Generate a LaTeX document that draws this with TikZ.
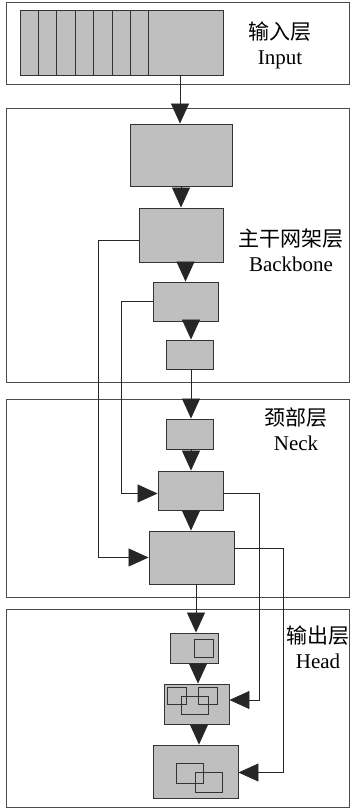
\documentclass[tikz,border=0pt]{standalone}
\usepackage{fontspec}
\setmainfont{Liberation Serif}
\newfontfamily\cjk{Noto Sans CJK SC}
\usepackage{xcolor}
\usepackage{tikz}
\usetikzlibrary{arrows.meta,positioning}

\begin{document}
\begin{tikzpicture}[
    x=1pt, y=-1pt,
    block/.style={rectangle, draw=black!80, fill=gray!50, line width=0.9pt, inner sep=0pt},
    layer/.style={rectangle, draw=black!70, line width=0.8pt, inner sep=0pt},
    tag/.style={align=center, font=\fontsize{21}{25}\selectfont},
    line/.style={draw, black!85, line width=0.8pt, -{Triangle[length=20pt, width=18pt]}}
]
    \useasboundingbox (0,0) rectangle (350,808);

    % --- Layer frames ---
    \node [layer, minimum width=343, minimum height=82] (in_layer) at (177.5,43) {};
    \node [layer, minimum width=343, minimum height=274] (bb_layer) at (177.5,245) {};
    \node [layer, minimum width=343, minimum height=198] (neck_layer) at (177.5,498) {};
    \node [layer, minimum width=343, minimum height=198] (head_layer) at (177.5,708) {};

    % --- Input ---
    \node [block, minimum width=203, minimum height=65] (input) at (121.5,42.5) {};
    \foreach \k in {1,...,7}
        \draw [black!80, line width=0.9pt] (20+18.4*\k,10) -- (20+18.4*\k,75);

    % --- Backbone ---
    \node [block, minimum width=102, minimum height=62] (bb1) at (181,155) {};
    \node [block, minimum width=84, minimum height=54] (bb2) at (181,235) {};
    \node [block, minimum width=65, minimum height=39] (bb3) at (185.5,301.5) {};
    \node [block, minimum width=47, minimum height=29] (bb4) at (189.5,354.5) {};

    % --- Neck ---
    \node [block, minimum width=47, minimum height=30] (neck1) at (189.5,434) {};
    \node [block, minimum width=65, minimum height=39] (neck2) at (190.5,490.5) {};
    \node [block, minimum width=85, minimum height=53] (neck3) at (191.5,557.5) {};

    % --- Head ---
    \node [block, minimum width=48, minimum height=30] (head1) at (194,648) {};
    \node [block, minimum width=65, minimum height=40] (head2) at (196.5,704) {};
    \node [block, minimum width=85, minimum height=53] (head3) at (195.5,771.5) {};
    \draw [black!80, line width=0.9pt] (194,639) rectangle (213,657);
    \draw [black!80, line width=0.9pt] (167,687) rectangle (186,704)
        (198,687) rectangle (217,704) (181,696) rectangle (208,714);
    \draw [black!80, line width=0.9pt] (176,763) rectangle (203,783)
        (195,772) rectangle (222,792);

    % Labels
    \node [tag] (in_tag) at (280,45) {{\cjk 输入层}\\Input};
    \node [tag] (bb_tag) at (291,250) {{\cjk 主干网架层}\\Backbone};
    \node [tag] (neck_tag) at (296,429) {{\cjk 颈部层}\\Neck};
    \node [tag] (head_tag) at (318,647) {{\cjk 输出层}\\Head};

    % Paths
    \path [line] (input.south -| 180,0) -- (bb1.north -| 180,0);
    \path [line] (bb1) -- (bb2);
    \path [line] (bb2.south -| bb3) -- (bb3.north);
    \path [line] (bb3.south -| 191,0) -- (bb4.north -| 191,0);
    \path [line] (bb4.south -| 191,0) -- (neck1.north -| 191,0);
    \path [line] (neck1.south -| 191,0) -- (neck2.north -| 191,0);
    \path [line] (neck2.south -| 191,0) -- (neck3.north -| 191,0);
    \path [line] (neck3.south -| 196,0) -- (head1.north -| 196,0);
    \path [line] (head1.south -| 198,0) -- (head2.north -| 198,0);
    \path [line] (head2.south -| 199,0) -- (head3.north -| 199,0);

    % Skip connections
    \path [line] ([yshift=-5pt]bb2.west) -- ++(-40,0) |- (neck3.west);
    \path [line] (bb3.west) -- ++(-31,0) |- ([yshift=-3pt]neck2.west);
    \path [line] ([yshift=-3pt]neck2.east) -- ++(36,0) |- ([yshift=4pt]head2.east);
    \path [line] ([yshift=9pt]neck3.east) -- ++(49,0) |- ([yshift=-1pt]head3.east);

\end{tikzpicture}
\end{document}
